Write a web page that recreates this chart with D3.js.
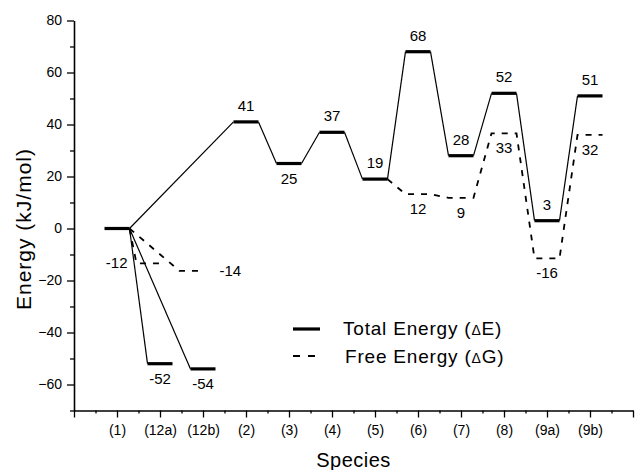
<!DOCTYPE html>
<html>
<head>
<meta charset="utf-8">
<script src="https://cdn.jsdelivr.net/npm/d3@7"></script>
<style>
  body { margin: 0; background: #fff; }
  text { font-family: "Liberation Sans", Arial, sans-serif; fill: #000; }
</style>
</head>
<body>
<div id="canvas"></div>
<script>
"use strict";

/* Data */
let species = ["(1)", "(12a)", "(12b)", "(2)", "(3)", "(4)", "(5)", "(6)", "(7)", "(8)", "(9a)", "(9b)"];
let totalEnergy = [0, -52, -54, 41, 25, 37, 19, 68, 28, 52, 3, 51];
let totalLabels = ["", "-52", "-54", "41", "25", "37", "19", "68", "28", "52", "3", "51"];
// free energy levels as drawn (printed labels differ a little from the drawn levels)
let freeEnergy = [0, -13.4, -16.3, null, null, null, 19, 13.2, 11.8, 36.6, -11.5, 36];
let freeLabels = ["", "-12", "-14", "", "", "", "", "12", "9", "33", "-16", "32"];

/* Which levels are joined (indices into species) */
let totalPaths = [[0, 3, 4, 5, 6, 7, 8, 9, 10, 11], [0, 1], [0, 2]];
let freePaths = [[6, 7, 8, 9, 10, 11], [0, 1], [0, 2]];

/* Where each number sits relative to its level */
let totalSide = ["", "below", "below", "above", "below", "above", "above", "above", "above", "above", "above", "above"];
let freeSide = ["", "left", "right", "", "", "", "", "below", "below", "below", "below", "below"];

let yTicks = [-60, -40, -20, 0, 20, 40, 60, 80];

/* Drawing configuration */
let svgWidth = 635;
let svgHeight = 470;
let halfBar = 12.5;     // half width of an energy level
let branchShift = -11;  // free energy levels of (12a)/(12b) are drawn a bit to the left

let svg = d3.select("#canvas")
  .append("svg")
  .attr("width", svgWidth)
  .attr("height", svgHeight);

svg.append("rect")
  .attr("width", svgWidth)
  .attr("height", svgHeight)
  .attr("fill", "#fff");

let xScale = d3.scaleLinear()
  .domain([0, species.length + 1])
  .range([74, 633]);

let yScale = d3.scaleLinear()
  .domain([-70, 80])
  .range([410.5, 20.5]);

let cx = i => xScale(i + 1);
let freeCx = i => cx(i) + (i === 1 || i === 2 ? branchShift : 0);

/* Axes */
let yAxis = svg.append("g")
  .attr("transform", "translate(74,0)")
  .call(d3.axisLeft(yScale).tickValues(yTicks).tickSize(7).tickPadding(5).tickSizeOuter(0));

svg.append("g")
  .attr("transform", "translate(74,0)")
  .call(d3.axisLeft(yScale).tickValues(d3.range(-70, 80, 20)).tickSize(4).tickFormat("").tickSizeOuter(0))
  .select(".domain").remove();

let xAxis = svg.append("g")
  .attr("transform", "translate(0,410.5)")
  .call(d3.axisBottom(xScale)
    .tickValues(d3.range(0, species.length + 2))
    .tickSize(7)
    .tickPadding(8)
    .tickSizeOuter(0)
    .tickFormat(i => species[i - 1] || ""));

svg.append("g")
  .attr("transform", "translate(0,410.5)")
  .call(d3.axisBottom(xScale).tickValues(d3.range(0.5, species.length + 1, 1)).tickSize(3).tickFormat("").tickSizeOuter(0))
  .select(".domain").remove();

svg.selectAll(".domain").attr("stroke-width", 1.6);
svg.selectAll(".tick line").attr("stroke-width", 1.3);
yAxis.selectAll("text").attr("font-size", 14).attr("font-family", null);
xAxis.selectAll("text").attr("font-size", 14).attr("font-family", null);

/* Total energy: thin connectors between thick levels */
let connectors = [];
totalPaths.forEach(path => {
  for (let k = 1; k < path.length; k++) {
    connectors.push([path[k - 1], path[k]]);
  }
});

svg.selectAll("line.connector")
  .data(connectors)
  .join("line")
  .attr("class", "connector")
  .attr("x1", d => cx(d[0]) + halfBar)
  .attr("y1", d => yScale(totalEnergy[d[0]]))
  .attr("x2", d => cx(d[1]) - halfBar)
  .attr("y2", d => yScale(totalEnergy[d[1]]))
  .attr("stroke", "black")
  .attr("stroke-width", 1.2);

svg.selectAll("line.level")
  .data(totalEnergy)
  .join("line")
  .attr("class", "level")
  .attr("x1", (d, i) => cx(i) - halfBar)
  .attr("x2", (d, i) => cx(i) + halfBar)
  .attr("y1", d => yScale(d))
  .attr("y2", d => yScale(d))
  .attr("stroke", "black")
  .attr("stroke-width", 3.2);

/* Free energy: dashed polylines */
let dashedLine = d3.line();
freePaths.forEach(path => {
  let pts = [[freeCx(path[0]) + halfBar, yScale(freeEnergy[path[0]])]];
  path.slice(1).forEach(i => {
    pts.push([freeCx(i) - halfBar, yScale(freeEnergy[i])]);
    pts.push([freeCx(i) + halfBar, yScale(freeEnergy[i])]);
  });
  svg.append("path")
    .attr("d", dashedLine(pts))
    .attr("fill", "none")
    .attr("stroke", "black")
    .attr("stroke-width", 1.8)
    .attr("stroke-dasharray", "6,7");
});

/* Value labels */
function placeLabel(x, y, side) {
  if (side === "above") return { x: x, y: y - 11, anchor: "middle" };
  if (side === "below") return { x: x, y: y + 20, anchor: "middle" };
  if (side === "left") return { x: x - halfBar - 9, y: y + 5, anchor: "end" };
  return { x: x + halfBar + 15, y: y + 5, anchor: "start" };
}

let labelData = [];
totalLabels.forEach((t, i) => {
  if (t) labelData.push(Object.assign({ text: t }, placeLabel(cx(i), yScale(totalEnergy[i]), totalSide[i])));
});
freeLabels.forEach((t, i) => {
  if (t) labelData.push(Object.assign({ text: t }, placeLabel(freeCx(i), yScale(freeEnergy[i]), freeSide[i])));
});

svg.selectAll("text.value")
  .data(labelData)
  .join("text")
  .attr("class", "value")
  .attr("x", d => d.x)
  .attr("y", d => d.y)
  .attr("text-anchor", d => d.anchor)
  .attr("font-size", 15)
  .text(d => d.text);

/* Legend */
svg.append("line")
  .attr("x1", 293).attr("x2", 320)
  .attr("y1", 329).attr("y2", 329)
  .attr("stroke", "black")
  .attr("stroke-width", 3.2);

svg.append("line")
  .attr("x1", 293).attr("x2", 320)
  .attr("y1", 356).attr("y2", 356)
  .attr("stroke", "black")
  .attr("stroke-width", 1.8)
  .attr("stroke-dasharray", "7,8");

let legendE = svg.append("text")
  .attr("x", 343).attr("y", 335)
  .attr("font-size", 19)
  .attr("letter-spacing", 0.8);
legendE.append("tspan").text("Total Energy (");
legendE.append("tspan").attr("font-size", 14).text("\u0394");
legendE.append("tspan").text("E)");

let legendG = svg.append("text")
  .attr("x", 345).attr("y", 363)
  .attr("font-size", 19)
  .attr("letter-spacing", 0.8);
legendG.append("tspan").text("Free Energy (");
legendG.append("tspan").attr("font-size", 14).text("\u0394");
legendG.append("tspan").text("G)");

/* Axis titles */
svg.append("text")
  .attr("x", 353.5)
  .attr("y", 467)
  .attr("text-anchor", "middle")
  .attr("font-size", 20)
  .attr("letter-spacing", 0.5)
  .text("Species");

svg.append("text")
  .attr("transform", "translate(31,229) rotate(-90)")
  .attr("text-anchor", "middle")
  .attr("font-size", 21)
  .attr("letter-spacing", 1)
  .text("Energy (kJ/mol)");
</script>
</body>
</html>
